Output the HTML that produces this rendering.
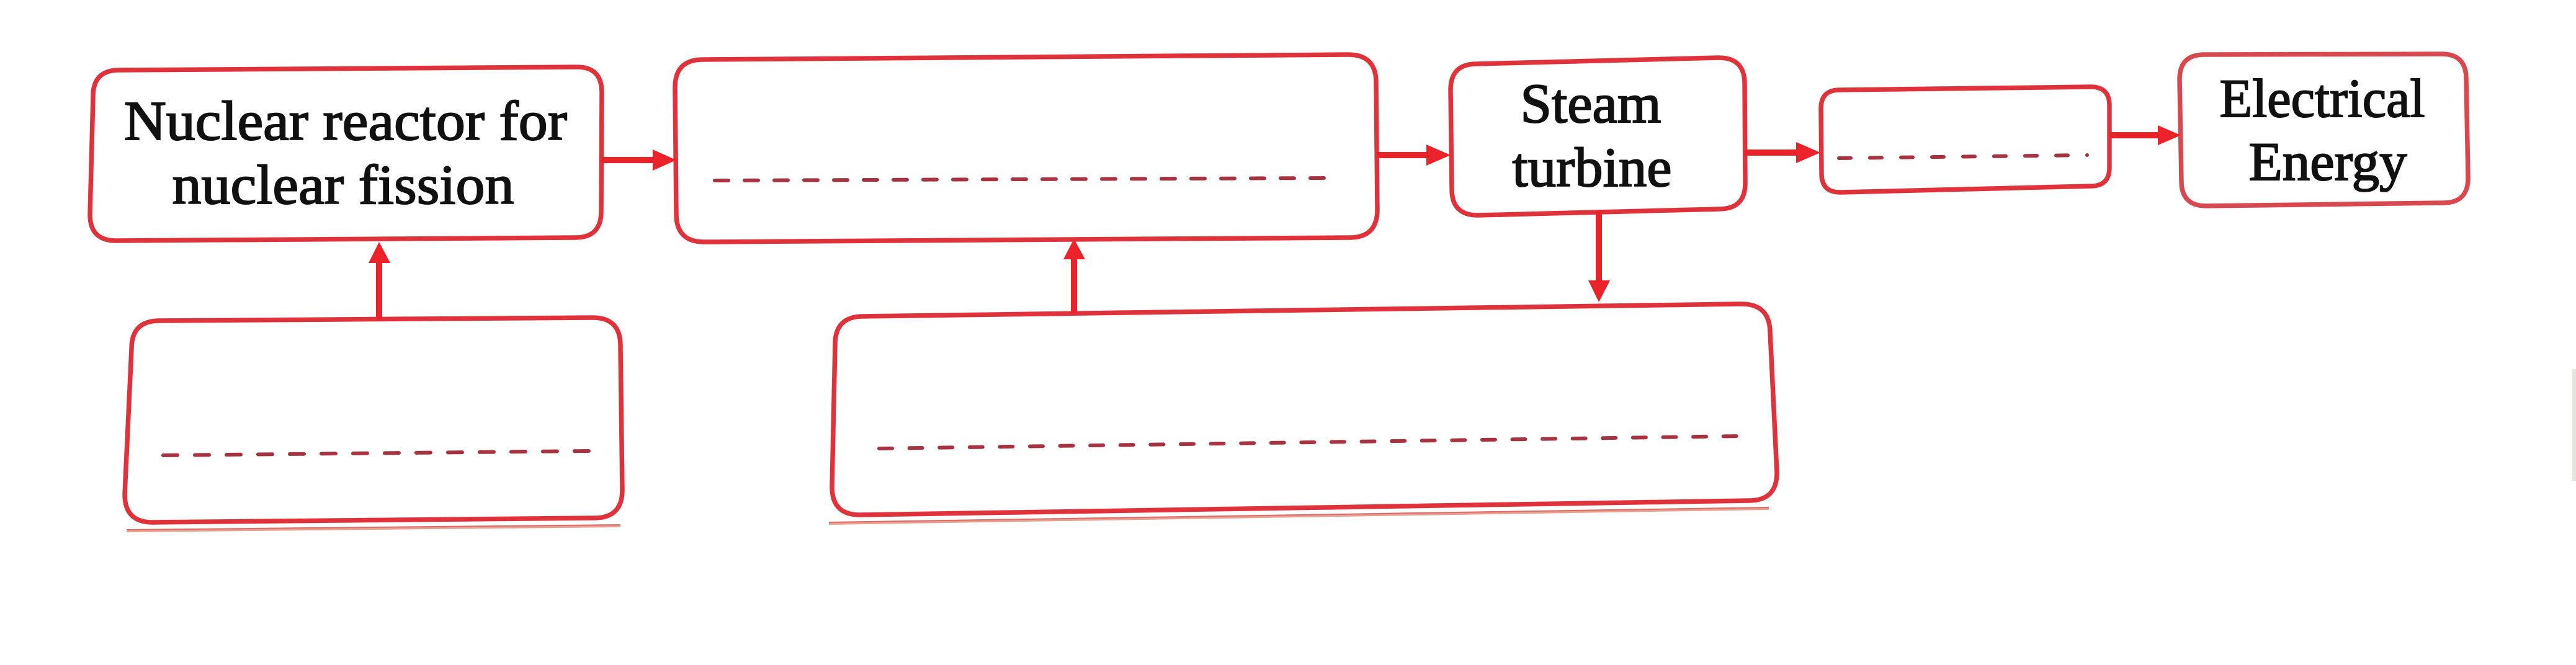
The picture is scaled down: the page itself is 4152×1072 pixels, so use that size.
<!DOCTYPE html>
<html>
<head>
<meta charset="utf-8">
<style>
  html, body { margin: 0; padding: 0; background: #ffffff; }
  body { width: 4152px; height: 1072px; overflow: hidden; }
  svg { display: block; }
  text { font-family: "Liberation Serif", "DejaVu Serif", serif; fill: #111111; stroke: #111111; stroke-width: 2px; }
</style>
</head>
<body>
<svg width="4152" height="1072" viewBox="0 0 4152 1072" xmlns="http://www.w3.org/2000/svg">
  <rect x="0" y="0" width="4152" height="1072" fill="#ffffff"/>
  <!-- faint right-edge strip -->
  <rect x="4146" y="595" width="6" height="180" fill="#e6e6de"/>

  <!-- underlines -->
  <line x1="204" y1="856" x2="1000" y2="848" stroke="#e8a090" stroke-width="4"/>
  <line x1="204" y1="854" x2="1000" y2="846" stroke="#de6a6a" stroke-width="2"/>
  <line x1="1336" y1="844" x2="2851" y2="820" stroke="#e8a090" stroke-width="4"/>
  <line x1="1336" y1="842" x2="2851" y2="818" stroke="#de6a6a" stroke-width="2"/>

  <g fill="none" stroke="#e0323b" stroke-width="7.5" stroke-linejoin="round">
    <!-- Box1: Nuclear reactor -->
    <path d="M192,113 L928,108 Q970,107 970,149 L969,341 Q969,383 927,383 L187,388 Q145,388 145,346 L150,155 Q150,113 192,113 Z"/>
    <!-- Box2 -->
    <path d="M1133,96 L2173,88 Q2218,88 2218,133 L2220,338 Q2220,383 2175,383 L1135,390 Q1090,390 1090,345 L1088,141 Q1088,96 1133,96 Z"/>
    <!-- Steam turbine -->
    <path d="M2380,103 L2770,93 Q2812,93 2812,135 L2813,295 Q2813,337 2771,337 L2382,347 Q2340,347 2340,305 L2338,145 Q2338,103 2380,103 Z"/>
    <!-- Box5 -->
    <path d="M2965,145 L3370,140 Q3400,140 3400,170 L3400,270 Q3400,300 3370,300 L2966,310 Q2936,310 2936,280 L2935,175 Q2935,145 2965,145 Z"/>
    <!-- Box3 -->
    <path d="M1391,510 L2807,490 Q2852,490 2853,535 L2864,762 Q2864,807 2819,807 L1386,830 Q1341,830 1341,785 L1346,555 Q1346,510 1391,510 Z"/>
    <!-- Box4 -->
    <path d="M257,517 L955,512 Q1000,512 1000,557 L1003,790 Q1003,835 958,835 L246,842 Q201,842 201,797 L212,562 Q212,517 257,517 Z"/>
  </g>
  <!-- Electrical Energy box (slightly lighter) -->
  <path d="M3553,88 L3935,87 Q3975,87 3975,127 L3978,287 Q3978,327 3938,327 L3556,332 Q3516,332 3516,292 L3513,128 Q3513,88 3553,88 Z" fill="none" stroke="#d9484e" stroke-width="7.5"/>

  <!-- dashed answer lines -->
  <g stroke="#a8323f" stroke-width="6" stroke-linecap="round" fill="none">
    <line x1="1152" y1="291" x2="2139" y2="287" stroke-dasharray="22 26"/>
    <line x1="263" y1="734" x2="951" y2="727" stroke-dasharray="23 28"/>
    <line x1="1417" y1="723" x2="2805" y2="703" stroke-dasharray="21 27.6"/>
    <line x1="2964" y1="255" x2="3364" y2="250" stroke-dasharray="19 31"/>
  </g>

  <!-- connectors -->
  <g stroke="#ea2229" stroke-width="10" fill="none">
    <line x1="970" y1="258" x2="1058" y2="258"/>
    <line x1="2219" y1="250" x2="2304" y2="250"/>
    <line x1="2812" y1="246" x2="2900" y2="246"/>
    <line x1="3400" y1="218" x2="3484" y2="218"/>
    <line x1="611" y1="515" x2="611" y2="420"/>
    <line x1="1731" y1="505" x2="1731" y2="414"/>
    <line x1="2577" y1="340" x2="2577" y2="456"/>
  </g>
  <g fill="#ea2229">
    <polygon points="1052,241 1090,258 1052,275"/>
    <polygon points="2299,233 2338,250 2299,267"/>
    <polygon points="2895,229 2934,246 2895,263"/>
    <polygon points="3478,202 3515,218 3478,234"/>
    <polygon points="594,424 611,390 629,424"/>
    <polygon points="1714,418 1731,385 1749,418"/>
    <polygon points="2560,452 2577,487 2595,452"/>
  </g>

  <!-- labels -->
  <text x="557" y="225" font-size="90" text-anchor="middle" textLength="714" lengthAdjust="spacingAndGlyphs">Nuclear reactor for</text>
  <text x="553" y="328" font-size="90" text-anchor="middle" textLength="551" lengthAdjust="spacingAndGlyphs">nuclear fission</text>
  <text x="2564" y="197" font-size="90" text-anchor="middle" textLength="227" lengthAdjust="spacingAndGlyphs">Steam</text>
  <text x="2566" y="300" font-size="90" text-anchor="middle" textLength="257" lengthAdjust="spacingAndGlyphs">turbine</text>
  <text x="3743" y="188" font-size="88" text-anchor="middle" textLength="331" lengthAdjust="spacingAndGlyphs">Electrical</text>
  <text x="3752" y="290" font-size="88" text-anchor="middle" textLength="255" lengthAdjust="spacingAndGlyphs">Energy</text>
</svg>
</body>
</html>
